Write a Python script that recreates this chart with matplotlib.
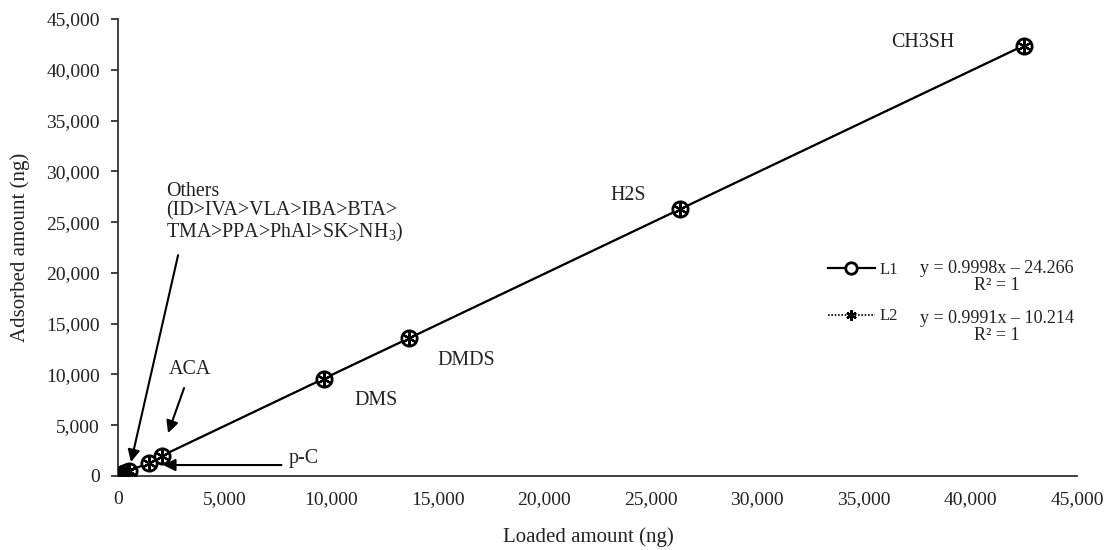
import matplotlib
matplotlib.use("Agg")
import matplotlib.pyplot as plt
from matplotlib.ticker import FuncFormatter, MultipleLocator

plt.rcParams['font.family'] = ['Liberation Serif', 'DejaVu Serif']
plt.rcParams['mathtext.fontset'] = 'custom'
plt.rcParams['mathtext.rm'] = 'Liberation Serif'
plt.rcParams['mathtext.it'] = 'Liberation Serif:italic'

# Compounds, ordered by loaded amount
compounds = ["NH3", "SK", "PhAl", "PPA", "TMA", "BTA", "IBA", "VLA", "IVA", "ID",
             "p-C", "ACA", "DMS", "DMDS", "H2S", "CH3SH"]
loaded = [40, 90, 130, 180, 230, 290, 340, 400, 460, 530,
          1450, 2050, 9650, 13650, 26350, 42500]
adsorbed_l1 = [20, 70, 110, 160, 210, 265, 315, 375, 435, 505,
               1300, 1980, 9580, 13560, 26250, 42380]
adsorbed_l2 = [30, 80, 120, 170, 220, 275, 325, 385, 445, 515,
               1310, 1990, 9590, 13570, 26260, 42390]

eq_l1 = "y = 0.9998x – 24.266\nR² = 1"
eq_l2 = "y = 0.9991x – 10.214\nR² = 1"

text_col = '#222222'
fs_tick = 14
fs_axis = 15
fs_note = 14.4

fig = plt.figure(figsize=(11.09, 5.5), dpi=100)
ax = fig.add_axes([118 / 1109, 1 - 476 / 550, 959 / 1109, 457 / 550])

# L2: dotted line with asterisk markers (beneath L1)
l2, = ax.plot(loaded, adsorbed_l2, linestyle=(0, (1, 1)), color='black', lw=1.2,
              marker=(6, 2, 0), markersize=10, markeredgewidth=1.6,
              markeredgecolor='black', zorder=2, label='L2')
# L1: solid line with open circles
l1, = ax.plot(loaded, adsorbed_l1, linestyle='-', color='black', lw=1.6,
              marker='o', markersize=11, markerfacecolor='white',
              markeredgewidth=2.0, markeredgecolor='black', zorder=3, label='L1')
# asterisks shown inside the circles
ax.plot(loaded, adsorbed_l2, linestyle='none', marker=(6, 2, 0), markersize=9.5,
        markeredgewidth=1.6, markeredgecolor='black', zorder=4)

ax.set_xlim(0, 45000)
ax.set_ylim(0, 45000)
ax.xaxis.set_major_locator(MultipleLocator(5000))
ax.yaxis.set_major_locator(MultipleLocator(5000))
fmt = FuncFormatter(lambda v, p: f"{int(v):,}")
ax.xaxis.set_major_formatter(fmt)
ax.yaxis.set_major_formatter(fmt)

for s in ['top', 'right']:
    ax.spines[s].set_visible(False)
for s in ['left', 'bottom']:
    ax.spines[s].set_color('#333333')
    ax.spines[s].set_linewidth(1.3)

ax.tick_params(axis='x', length=0, pad=11, labelsize=fs_tick, labelcolor=text_col)
ax.tick_params(axis='y', length=5, width=1.3, color='#333333', pad=8,
               labelsize=fs_tick, labelcolor=text_col)

ax.set_xlabel("Loaded amount (ng)", fontsize=fs_axis, color=text_col)
ax.set_ylabel("Adsorbed amount (ng)", fontsize=fs_axis, color=text_col)
ax.xaxis.set_label_coords(0.491, -0.112)
ax.yaxis.set_label_coords(-0.092, 0.5)

# Compound labels
labels = [
    ("CH3SH", 36300, 42700),
    ("H2S", 23100, 27600),
    ("DMDS", 15000, 11400),
    ("DMS", 11100, 7450),
    ("ACA", 2400, 10500),
    ("p-C", 8000, 1770),
]
for txt, x, y in labels:
    ax.text(x, y, txt, fontsize=fs_note, color=text_col, ha='left', va='center')

ax.text(2250, 25900, "Others\n(ID>IVA>VLA>IBA>BTA>\nTMA>PPA>PhAl>SK>NH$_3$)",
        fontsize=fs_note, color=text_col, ha='left', va='center', linespacing=1.05)

arrow = dict(arrowstyle='-|>', color='black', lw=1.5, mutation_scale=18,
             shrinkA=0, shrinkB=0)
ax.annotate("", xy=(610, 1380), xytext=(2820, 21750), arrowprops=arrow)
ax.annotate("", xy=(2350, 4230), xytext=(3100, 8660), arrowprops=arrow)
ax.annotate("", xy=(2120, 1080), xytext=(7670, 1080), arrowprops=arrow)

# Legend with fitted equations
leg = ax.legend(handles=[l1, l2], loc='center left',
                bbox_to_anchor=((828 - 118) / 959, (476 - 293) / 457),
                frameon=False, fontsize=12, handlelength=2.8, handletextpad=0.3,
                labelspacing=1.85, borderpad=0, borderaxespad=0, markerscale=0.75)
for t in leg.get_texts():
    t.set_color(text_col)

ax.text((997 - 118) / 959, (476 - 277) / 457, eq_l1, transform=ax.transAxes,
        fontsize=13, color=text_col, ha='center', va='center',
        multialignment='center', linespacing=1.0)
ax.text((997 - 118) / 959, (476 - 327) / 457, eq_l2, transform=ax.transAxes,
        fontsize=13, color=text_col, ha='center', va='center',
        multialignment='center', linespacing=1.0)

fig.savefig("out.png", dpi=100)
